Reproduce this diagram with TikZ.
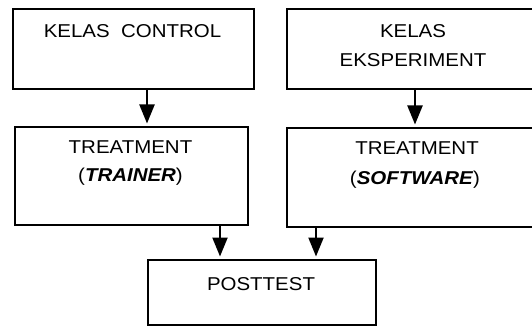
\documentclass[tikz,border=0pt]{standalone}
\usepackage{fontspec}
\setmainfont{Liberation Sans}[FakeStretch=1.1]
\usetikzlibrary{arrows.meta}
\begin{document}
\begin{tikzpicture}[x=1pt,y=-1pt,
  box/.style={draw,line width=1.6pt,minimum width=#1,inner sep=0pt,anchor=north west},
  lbl/.style={anchor=base,inner sep=0pt,font=\fontsize{18.6}{28}\selectfont},
  arr/.style={line width=2.2pt,shorten >=2.5pt,-{Triangle[width=15pt,length=19pt]}}]
\useasboundingbox (0,0) rectangle (532,326);
\begin{scope}
\clip (0,0) rectangle (532,326);
% boxes
\node[box=241pt,minimum height=80pt] (k1) at (12,8) {};
\node[box=254pt,minimum height=80pt] (k2) at (286,8) {};
\node[box=233pt,minimum height=98pt] (t1) at (14,126) {};
\node[box=260pt,minimum height=99pt] (t2) at (286,127) {};
\node[box=228pt,minimum height=65pt] (p) at (147,259) {};
\end{scope}
% labels
\node[lbl] (k1a) at (132.5,38) {KELAS\ \ CONTROL};
\node[lbl] (k2a) at (413,38) {KELAS};
\node[lbl] (k2b) at (413,66.5) {EKSPERIMENT};
\node[lbl] (t1a) at (130.5,153.5) {TREATMENT};
\node[lbl] (t1b) at (130.5,181) {(\textbf{\textit{TRAINER}})};
\node[lbl] (t2a) at (417,154) {TREATMENT};
\node[lbl] (t2b) at (415,184) {(\textbf{\textit{SOFTWARE}})};
\node[lbl] (pa) at (261,290) {POSTTEST};
% connectors
\coordinate (c1) at (147,0);
\coordinate (c2) at (415,0);
\coordinate (c3) at (220,0);
\coordinate (c4) at (316,0);
\draw[arr] (k1.south -| c1) -- (t1.north -| c1);
\draw[arr] (k2.south -| c2) -- (t2.north -| c2);
\draw[arr] (t1.south -| c3) -- (p.north -| c3);
\draw[arr] (t2.south -| c4) -- (p.north -| c4);
\end{tikzpicture}
\end{document}
